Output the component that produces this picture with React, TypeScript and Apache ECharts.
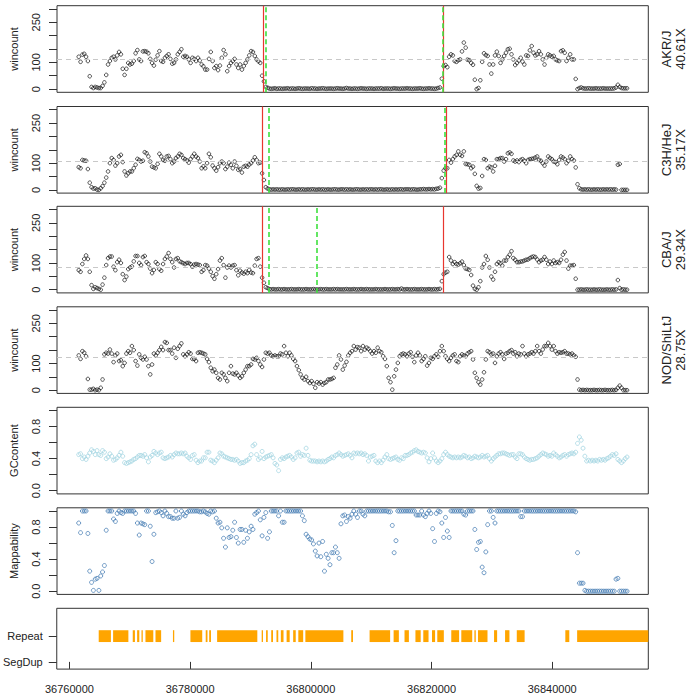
import React, { useEffect, useRef } from 'react';
import * as echarts from 'echarts';

const FONT = '"Liberation Sans", Arial, Helvetica, sans-serif';

// genomic x range of the plot region
const X_MIN = 36757900;
const X_MAX = 36855920;
const X_TICKS = [36760000, 36780000, 36800000, 36820000, 36840000];

// windows (bins) along the region
const WINDOW_START = 36761500;
const WINDOW_STEP = 304;

const STRAINS = ['AKR/J', 'C3H/HeJ', 'CBA/J', 'NOD/ShiLtJ'];
const COVERAGE = ['40.61X', '35.17X', '29.34X', '28.75X'];
const MEAN_WINCOUNT = [113, 108, 84, 125];

const RED_LINES = [
  [36792055, 36821940],
  [36791842, 36822433],
  [36792006, 36821940],
  [],
];
const GREEN_LINES = [
  [36792548, 36821825],
  [36792993, 36822203],
  [36792927, 36800937],
  [],
];

const WIN_TICKS = [0, 50, 100, 150, 200, 250, 300];
const WIN_LABELS = [0, 100, 250];
const FRAC_TICKS = [0, 0.2, 0.4, 0.6, 0.8, 1.0];
const FRAC_LABELS = [0, 0.4, 0.8];

const AKR_WIN = [
  121,102,129,132,121,105,48,8,4,8,
  6,4,4,12,25,53,92,105,117,121,
  111,126,139,130,76,53,76,98,92,95,
  105,134,146,111,105,141,142,140,134,113,
  98,88,110,126,142,105,102,117,124,130,
  113,95,98,111,130,139,149,121,124,121,
  111,98,117,113,105,117,107,92,85,73,
  73,113,139,105,79,86,71,88,117,146,
  130,67,86,98,105,113,92,79,92,73,
  86,98,111,126,142,139,124,111,104,98,
  50,29,8,5,2,1,2,3,1,2,
  2,1,2,2,3,1,2,2,1,2,
  3,2,1,2,2,2,1,3,2,2,
  1,2,2,3,2,1,2,2,2,1,
  2,3,2,2,1,2,4,2,2,1,
  2,2,1,2,3,2,2,1,2,2,
  2,1,2,2,2,3,1,2,2,2,
  1,2,3,2,2,1,2,2,2,3,
  2,2,1,2,2,2,3,2,1,2,
  2,3,2,2,1,2,4,6,39,86,
  90,82,121,130,126,105,102,108,111,141,
  174,155,110,108,98,91,35,0,4,33,
  102,134,127,124,92,58,92,126,140,124,
  98,111,124,136,149,151,130,111,90,98,
  107,117,103,92,126,124,145,161,136,126,
  130,142,130,111,92,117,130,126,121,124,
  111,107,105,142,145,136,105,117,130,111,
  111,38,0,4,6,3,2,2,3,2,
  2,2,3,2,2,2,3,2,2,2,
  2,2,3,6,16,8,4,3,3,3,
];

const C3H_WIN = [
  85,81,112,110,109,78,27,10,5,6,
  1,0,6,14,27,46,69,100,119,112,
  91,100,125,131,104,69,54,62,69,69,
  81,94,116,112,106,109,141,137,125,106,
  87,84,81,97,135,125,112,109,125,127,
  115,100,106,119,125,135,131,119,115,110,
  102,115,125,135,125,119,106,81,88,81,
  100,135,122,91,81,72,85,100,106,100,
  78,87,102,94,81,106,90,75,78,65,
  87,90,87,95,100,110,122,112,100,102,
  62,37,10,5,2,1,2,1,2,1,
  1,2,1,1,2,1,2,2,1,1,
  2,1,2,1,1,2,1,2,2,1,
  1,2,1,2,1,1,2,1,1,2,
  2,1,1,2,2,1,2,1,2,1,
  1,2,2,1,1,2,1,2,1,2,
  2,1,2,1,2,2,1,1,2,1,
  1,2,1,2,1,2,2,1,2,2,
  2,1,2,2,1,1,2,2,3,2,
  2,3,2,3,2,4,5,8,44,72,
  81,81,112,102,115,125,131,144,131,127,
  144,97,96,94,81,87,60,15,5,7,
  52,115,112,81,87,84,69,90,115,115,
  119,119,106,115,137,140,135,110,106,110,
  104,112,115,109,100,112,115,116,117,121,
  125,112,109,100,91,106,125,119,115,106,
  104,96,112,125,121,115,100,109,125,115,
  110,84,21,6,2,1,2,1,2,1,
  1,2,1,2,1,1,2,1,2,1,
  2,1,2,1,94,97,0,0,0,0,
];

const CBA_WIN = [
  73,67,96,115,128,115,67,17,3,9,
  6,3,0,19,45,92,118,124,124,86,
  73,103,112,100,58,36,49,77,83,87,
  106,126,126,100,92,122,126,103,96,79,
  62,74,103,96,77,71,96,115,124,137,
  115,103,83,115,118,106,103,99,96,100,
  100,96,86,94,96,94,92,67,73,92,
  90,79,67,51,41,58,77,109,118,92,
  45,83,90,83,90,92,73,54,71,64,
  60,67,62,74,64,62,90,115,118,86,
  45,26,9,6,2,1,2,1,1,2,
  1,1,2,1,1,1,2,1,1,1,
  2,1,1,1,2,1,1,1,2,1,
  1,1,2,1,1,2,1,1,1,2,
  1,2,1,1,1,1,2,1,1,1,
  2,1,1,1,2,1,1,2,1,1,
  1,1,2,1,1,1,1,2,1,1,
  1,2,1,1,2,1,4,1,1,2,
  1,1,1,2,1,1,1,2,1,1,
  1,2,1,1,2,1,2,3,32,58,
  64,67,122,109,96,103,96,94,99,105,
  92,79,77,74,55,15,3,0,9,32,
  83,96,126,112,83,49,38,67,96,103,
  99,90,109,109,122,131,144,118,112,103,
  103,105,106,109,112,113,118,122,124,122,
  113,103,109,112,122,112,96,105,96,109,
  100,103,100,112,131,141,109,79,90,90,
  92,41,0,0,1,0,0,1,0,0,
  0,1,0,0,1,0,0,0,1,0,
  0,1,0,1,36,6,0,1,0,0,
];

const NOD_WIN = [
  130,117,146,140,127,42,2,2,5,0,
  2,0,9,40,134,140,137,152,137,105,
  130,137,109,112,90,102,137,146,140,165,
  150,109,92,134,121,115,125,115,90,59,
  96,137,130,140,150,162,150,180,177,150,
  150,137,159,121,155,165,175,134,127,134,
  142,137,117,117,109,140,142,140,137,134,
  117,105,84,71,77,65,46,40,65,59,
  46,34,65,90,62,59,65,55,46,52,
  65,77,90,90,96,117,115,121,109,96,
  87,115,140,137,140,130,127,130,127,127,
  137,134,165,140,127,140,130,117,109,90,
  75,59,46,40,50,34,27,34,24,9,
  30,25,30,21,27,30,40,40,42,46,
  84,96,130,115,77,92,106,130,140,146,
  165,152,161,159,146,165,152,159,155,146,
  137,146,140,159,146,142,127,117,90,46,
  30,2,52,77,102,127,134,137,134,127,
  137,142,125,105,130,140,130,109,117,127,
  92,102,121,117,127,134,125,146,165,146,
  127,117,109,121,130,134,109,105,127,134,
  130,127,137,142,146,115,65,46,30,21,
  40,67,115,146,142,134,137,102,127,137,
  142,134,117,137,140,146,150,137,142,127,
  137,134,165,137,127,134,137,142,137,146,
  165,146,137,152,165,165,177,165,152,165,
  146,137,142,140,142,146,137,137,134,137,
  130,125,40,2,0,1,0,1,0,0,
  0,1,0,0,1,0,0,1,0,0,
  0,1,0,1,9,17,9,0,0,0,
];

const GC_CONTENT = [
  0.45,0.46,0.40,0.42,0.39,0.43,0.47,0.51,0.49,0.45,
  0.50,0.45,0.44,0.50,0.48,0.40,0.42,0.46,0.43,0.38,
  0.39,0.41,0.44,0.48,0.43,0.35,0.34,0.35,0.36,0.37,
  0.39,0.40,0.42,0.44,0.44,0.43,0.45,0.41,0.36,0.42,
  0.44,0.49,0.47,0.45,0.47,0.48,0.41,0.40,0.41,0.42,
  0.44,0.42,0.45,0.47,0.46,0.46,0.47,0.46,0.47,0.43,
  0.41,0.39,0.44,0.45,0.38,0.35,0.37,0.37,0.41,0.41,
  0.48,0.48,0.38,0.37,0.35,0.38,0.41,0.47,0.46,0.43,
  0.42,0.41,0.40,0.39,0.39,0.38,0.39,0.37,0.34,0.35,
  0.35,0.37,0.38,0.40,0.45,0.56,0.58,0.45,0.39,0.41,
  0.49,0.40,0.42,0.43,0.44,0.45,0.41,0.34,0.32,0.25,
  0.39,0.41,0.40,0.42,0.43,0.44,0.42,0.39,0.41,0.47,
  0.48,0.43,0.45,0.44,0.53,0.44,0.38,0.37,0.37,0.37,
  0.36,0.37,0.36,0.37,0.36,0.37,0.39,0.40,0.42,0.41,
  0.44,0.45,0.47,0.45,0.43,0.44,0.45,0.46,0.44,0.41,
  0.47,0.46,0.47,0.46,0.47,0.45,0.46,0.44,0.37,0.42,
  0.43,0.44,0.37,0.35,0.37,0.35,0.38,0.42,0.45,0.40,
  0.39,0.40,0.41,0.42,0.39,0.38,0.41,0.40,0.44,0.44,
  0.45,0.47,0.48,0.50,0.51,0.49,0.48,0.47,0.48,0.47,
  0.41,0.36,0.40,0.47,0.41,0.37,0.35,0.37,0.40,0.45,
  0.48,0.45,0.43,0.42,0.41,0.42,0.41,0.42,0.41,0.42,
  0.44,0.43,0.41,0.42,0.40,0.41,0.43,0.42,0.41,0.42,
  0.44,0.42,0.43,0.44,0.40,0.37,0.40,0.42,0.44,0.46,
  0.46,0.47,0.47,0.46,0.45,0.44,0.45,0.45,0.42,0.40,
  0.46,0.46,0.45,0.42,0.40,0.39,0.38,0.39,0.39,0.40,
  0.41,0.43,0.45,0.47,0.46,0.45,0.43,0.44,0.43,0.47,
  0.45,0.43,0.41,0.42,0.44,0.45,0.43,0.45,0.46,0.47,
  0.46,0.48,0.59,0.67,0.63,0.53,0.43,0.37,0.38,0.37,
  0.38,0.37,0.38,0.37,0.39,0.38,0.39,0.38,0.40,0.41,
  0.43,0.45,0.44,0.46,0.39,0.37,0.35,0.37,0.40,0.42,
];

const MAPPABILITY = [
  0.85,0.73,1,1,1,0.72,0.25,0.11,0.01,0.15,
  0.16,0.01,0.19,0.24,0.32,0.76,1,1,1,0.90,
  0.87,0.97,1,0.98,0.97,1,1,1,1,1,
  1,0.97,0.85,0.70,0.85,0.84,0.83,1,1,0.81,
  0.37,0.71,0.98,0.99,1,0.98,0.94,1,0.97,0.93,
  0.93,0.91,0.91,1,0.91,0.92,1,0.96,0.94,0.98,
  1,1,1,1,1,1,0.99,0.99,1,0.99,
  0.97,0.96,1,0.99,1,0.91,0.85,0.86,0.79,0.66,
  0.55,0.79,0.67,0.68,0.76,0.86,0.67,0.60,0.77,0.77,
  0.61,0.76,0.66,0.74,0.81,0.77,0.96,0.98,1,0.89,
  0.69,0.92,0.98,0.66,0.74,1,1,1,1,0.94,
  1,0.86,0.86,1,1,1,1,1,1,1,
  1,1,0.94,0.88,0.71,0.68,0.65,0.64,0.59,0.50,
  0.44,0.60,0.43,0.62,0.25,0.46,0.41,0.33,0.48,0.48,
  0.55,0.48,0.41,0.84,0.94,0.95,0.87,0.93,0.91,0.96,
  1,0.96,0.92,1,1,0.96,0.94,1,1,1,
  1,1,1,1,1,1,1,1,1,0.99,
  0.99,0.82,0.48,0.63,1,1,1,1,1,1,
  1,1,1,1,0.95,0.95,0.95,1,0.95,0.93,
  0.97,1,0.97,0.78,0.62,0.97,1,0.99,0.85,0.67,
  0.92,0.75,0.67,1,1,1,1,1,1,1,
  0.96,0.95,1,1,1,1,0.77,0.52,0.61,0.62,
  0.30,0.23,0.49,0.83,1,1,0.92,0.85,1,1,
  1,1,1,1,1,1,1,1,1,1,
  1,0.93,0.93,1,1,1,1,1,1,1,
  1,1,1,1,1,1,1,1,1,1,
  1,1,1,1,1,1,1,1,1,1,
  1,0.99,0.48,0.10,0.10,0.10,0.01,0,0,0,
  0,0,0,0,0,0,0,0,0,0,
  0,0,0,0.15,0.16,0,0,0,0,0,
];

const REPEAT_START = [
  36764852, 36767237, 36770493, 36771217, 36771941, 36772599, 36774260, 36777154,
  36780049, 36782582, 36783158, 36784473, 36791858, 36792582, 36793437, 36794308,
  36795032, 36795986, 36797072, 36797927, 36799095, 36806694, 36809737, 36813717,
  36815525, 36817334, 36818634, 36820082, 36820954, 36823272, 36824933, 36827104,
  36827696, 36830360, 36832186, 36834127, 36842170, 36844127,
];
const REPEAT_END = [
  36766875, 36769769, 36770855, 36771579, 36772155, 36773898, 36775197, 36777368,
  36782006, 36782878, 36783454, 36791134, 36792072, 36792862, 36793733, 36794604,
  36795476, 36796496, 36797500, 36798733, 36805394, 36806990, 36813141, 36814589,
  36816249, 36818206, 36819505, 36820592, 36822040, 36824571, 36826742, 36827334,
  36829275, 36830870, 36832910, 36835426, 36842828, 36858000,
];
const TRACK_LABELS = ['SegDup', 'Repeat'];

const GRID_LEFT = 52.3;
const GRID_WIDTH = 596;
const PANEL_TOPS = [5.7, 106.5, 206.3, 306.8, 407.3, 507.8, 608.3];
const PANEL_HEIGHTS = [86.6, 86.6, 86.6, 86.6, 86.6, 86.6, 60.8];

function windowPos(i: number) {
  return WINDOW_START + i * WINDOW_STEP;
}

function toPoints(values: number[]) {
  return values.map((v, i) => [windowPos(i), v]);
}

const textStyle = { color: '#222', fontFamily: FONT, fontSize: 11 };

function yAxisFor(i: number): any {
  const base: any = {
    type: 'value',
    gridIndex: i,
    nameLocation: 'middle',
    nameGap: 38,
    nameTextStyle: { ...textStyle },
    axisLine: { show: false },
    splitLine: { show: false },
    axisTick: { show: true, length: 8, lineStyle: { color: '#333', width: 1 } },
    axisLabel: { ...textStyle, margin: 16, rotate: 90 },
  };
  if (i < 4) {
    return {
      ...base,
      name: 'wincount',
      min: -12,
      max: 312,
      axisTick: { ...base.axisTick, customValues: WIN_TICKS },
      axisLabel: { ...base.axisLabel, customValues: WIN_LABELS, formatter: (v: number) => String(v) },
    };
  }
  if (i < 6) {
    return {
      ...base,
      name: i === 4 ? 'GCcontent' : 'Mappability',
      min: -0.04,
      max: 1.04,
      axisTick: { ...base.axisTick, customValues: FRAC_TICKS },
      axisLabel: { ...base.axisLabel, customValues: FRAC_LABELS, formatter: (v: number) => v.toFixed(1) },
    };
  }
  return {
    ...base,
    min: -0.28,
    max: 2.08,
    axisTick: { ...base.axisTick, customValues: [0, 1] },
    axisLabel: {
      ...base.axisLabel,
      rotate: 0,
      margin: 14,
      customValues: [0, 1],
      formatter: (v: number) => TRACK_LABELS[Math.round(v)],
    },
  };
}

function buildOption(): any {
  const grid = PANEL_TOPS.map((top, i) => ({
    left: GRID_LEFT,
    width: GRID_WIDTH,
    top,
    height: PANEL_HEIGHTS[i],
    show: true,
    borderColor: '#333',
    borderWidth: 1,
    backgroundColor: 'rgba(0,0,0,0)',
  }));

  const xAxis = PANEL_TOPS.map((_, i) => ({
    type: 'value',
    gridIndex: i,
    min: X_MIN,
    max: X_MAX,
    show: i === 6,
    axisLine: { show: false },
    splitLine: { show: false },
    axisTick: { show: true, length: 7, customValues: X_TICKS, lineStyle: { color: '#333', width: 1 } },
    axisLabel: { ...textStyle, customValues: X_TICKS, margin: 14, formatter: (v: number) => String(v) },
  }));

  const yAxis = PANEL_TOPS.map((_, i) => yAxisFor(i));

  const wins = [AKR_WIN, C3H_WIN, CBA_WIN, NOD_WIN];
  const series: any[] = wins.map((w, i) => ({
    type: 'scatter',
    xAxisIndex: i,
    yAxisIndex: i,
    data: toPoints(w),
    symbol: 'circle',
    symbolSize: 3.6,
    itemStyle: { color: 'rgba(0,0,0,0)', borderColor: '#111', borderWidth: 0.9 },
    silent: true,
    markLine: {
      silent: true,
      symbol: ['none', 'none'],
      label: { show: false },
      animation: false,
      data: [
        { yAxis: MEAN_WINCOUNT[i], lineStyle: { color: '#c8c8c8', type: [5, 4], width: 1 } },
        ...RED_LINES[i].map((v) => ({ xAxis: v, lineStyle: { color: '#e8362f', type: 'solid', width: 1.2 } })),
        ...GREEN_LINES[i].map((v) => ({ xAxis: v, lineStyle: { color: '#3ee03e', type: [5, 3], width: 1.6 } })),
      ],
    },
  }));

  series.push({
    type: 'scatter',
    xAxisIndex: 4,
    yAxisIndex: 4,
    data: toPoints(GC_CONTENT),
    symbol: 'circle',
    symbolSize: 4,
    itemStyle: { color: 'rgba(0,0,0,0)', borderColor: '#a5d6e2', borderWidth: 1 },
    silent: true,
  });
  series.push({
    type: 'scatter',
    xAxisIndex: 5,
    yAxisIndex: 5,
    data: toPoints(MAPPABILITY),
    symbol: 'circle',
    symbolSize: 4,
    itemStyle: { color: 'rgba(0,0,0,0)', borderColor: '#4a7fb5', borderWidth: 1 },
    silent: true,
  });
  series.push({
    type: 'custom',
    xAxisIndex: 6,
    yAxisIndex: 6,
    silent: true,
    data: REPEAT_START.map((s, i) => [s, REPEAT_END[i], 1]),
    renderItem: (params: any, api: any) => {
      const y = api.value(2);
      const a = api.coord([api.value(0), y]);
      const b = api.coord([api.value(1), y]);
      const h = api.size([0, 0.46])[1];
      const cs = params.coordSys;
      const shape = echarts.graphic.clipRectByRect(
        { x: a[0], y: a[1] - h / 2, width: Math.max(b[0] - a[0], 1), height: h },
        { x: cs.x, y: cs.y, width: cs.width, height: cs.height }
      );
      return shape ? { type: 'rect', shape, style: { fill: '#FFA500' } } : null;
    },
  });

  const graphic: any[] = [];
  STRAINS.forEach((s, i) => {
    const cy = PANEL_TOPS[i] + PANEL_HEIGHTS[i] / 2;
    graphic.push({
      type: 'text',
      x: 666,
      y: cy,
      rotation: Math.PI / 2,
      silent: true,
      style: { text: s, fill: '#222', font: `13px ${FONT}`, align: 'center', verticalAlign: 'middle', textAlign: 'center', textVerticalAlign: 'middle' },
    });
    graphic.push({
      type: 'text',
      x: 680,
      y: cy,
      rotation: Math.PI / 2,
      silent: true,
      style: { text: COVERAGE[i], fill: '#222', font: `13px ${FONT}`, align: 'center', verticalAlign: 'middle', textAlign: 'center', textVerticalAlign: 'middle' },
    });
  });

  return {
    animation: false,
    backgroundColor: '#ffffff',
    textStyle: { fontFamily: FONT },
    grid,
    xAxis,
    yAxis,
    series,
    graphic,
  };
}

export default function App() {
  const ref = useRef<HTMLDivElement>(null);
  useEffect(() => {
    if (!ref.current) return;
    const chart = echarts.init(ref.current, null, { renderer: 'svg' });
    chart.setOption(buildOption());
    return () => chart.dispose();
  }, []);
  return <div ref={ref} style={{ position: 'absolute', left: 0, top: 0, width: 690, height: 696 }} />;
}
